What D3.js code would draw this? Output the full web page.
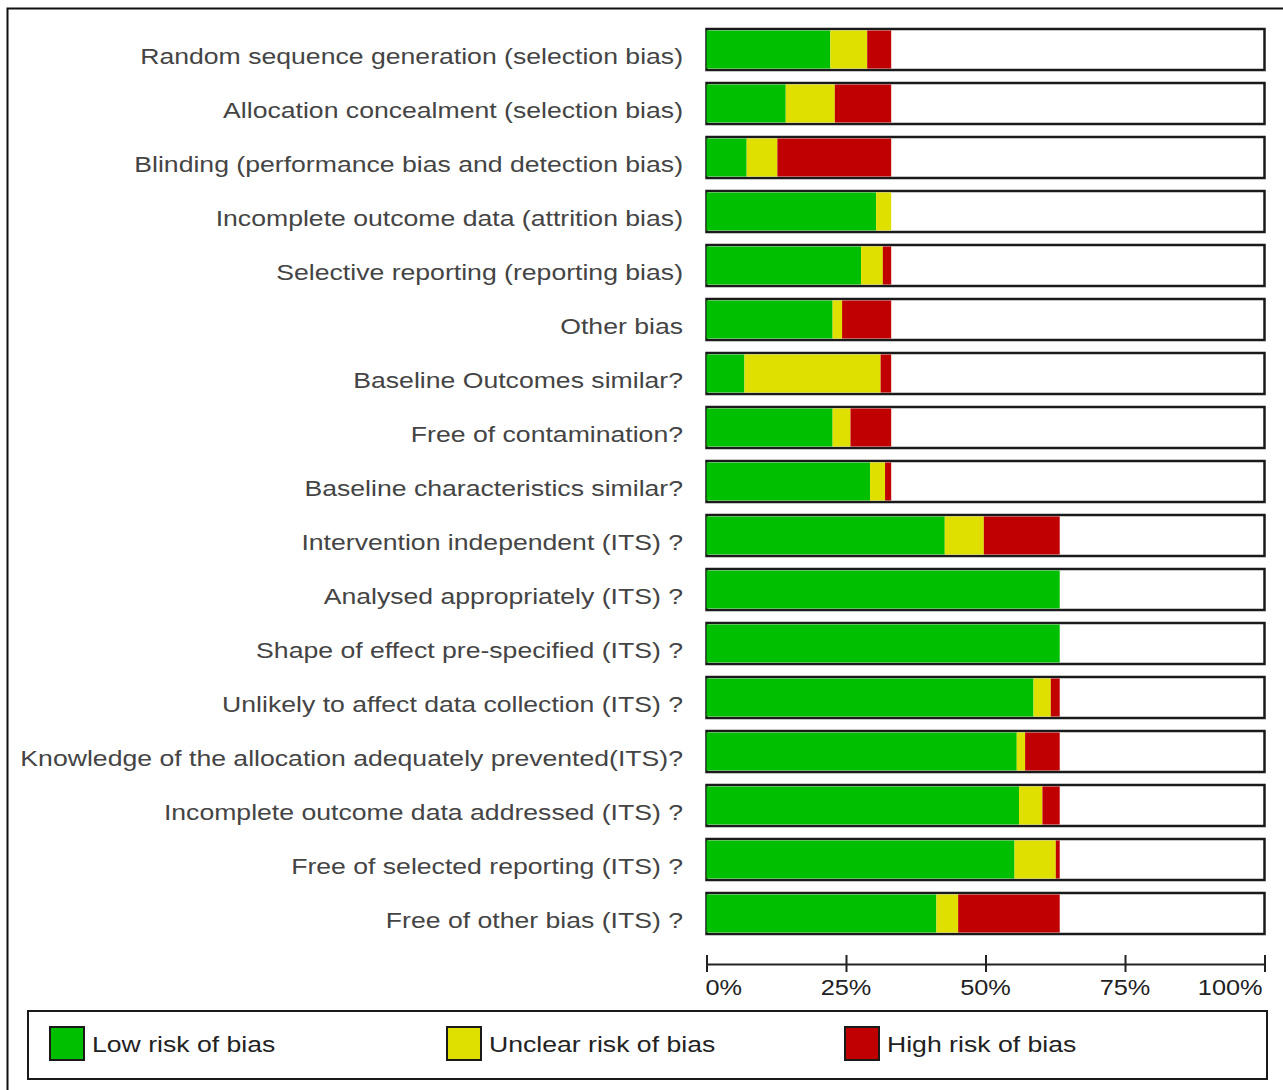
<!DOCTYPE html>
<html><head><meta charset="utf-8">
<script src="https://cdn.jsdelivr.net/npm/d3@7"></script>
<style>
html,body{margin:0;padding:0;background:#fff;}
svg{display:block;}
text{font-family:"Liberation Sans",Arial,sans-serif;}
</style></head>
<body>
<svg id="chart" width="1283" height="1090"></svg>
<script>
const categories = [
  "Random sequence generation (selection bias)",
  "Allocation concealment (selection bias)",
  "Blinding (performance bias and detection bias)",
  "Incomplete outcome data (attrition bias)",
  "Selective reporting (reporting bias)",
  "Other bias",
  "Baseline Outcomes similar?",
  "Free of contamination?",
  "Baseline characteristics similar?",
  "Intervention independent (ITS) ?",
  "Analysed appropriately (ITS) ?",
  "Shape of effect pre-specified (ITS) ?",
  "Unlikely to affect data collection (ITS) ?",
  "Knowledge of the allocation adequately prevented(ITS)?",
  "Incomplete outcome data addressed (ITS) ?",
  "Free of selected reporting (ITS) ?",
  "Free of other bias (ITS) ?"
];
const lowRisk     = [22.2, 14.2, 7.2, 30.4, 27.7, 22.6, 6.8, 22.6, 29.3, 42.7, 63.3, 63.3, 58.6, 55.6, 56.0, 55.2, 41.2];
const unclearRisk = [6.6, 8.8, 5.5, 2.7, 3.9, 1.7, 24.4, 3.2, 2.7, 7.0, 0, 0, 3.1, 1.5, 4.2, 7.4, 3.9];
const highRisk    = [4.3, 10.1, 20.4, 0, 1.5, 8.8, 1.9, 7.3, 1.1, 13.6, 0, 0, 1.6, 6.2, 3.1, 0.7, 18.2];
const seriesNames = ["Low risk of bias", "Unclear risk of bias", "High risk of bias"];
const seriesColors = ["#00bf00", "#e0e000", "#c00000"];
const tickValues = [0, 25, 50, 75, 100];
const tickLabels = ["0%", "25%", "50%", "75%", "100%"];

const svg = d3.select("#chart");

// outer frame
svg.append("rect").attr("x", 7.5).attr("y", 8.5).attr("width", 1290).attr("height", 1100)
  .attr("fill", "none").attr("stroke", "#111").attr("stroke-width", 2);

const x = d3.scaleLinear().domain([0, 100]).range([706.5, 1264.5]);
const y = d3.scaleBand().domain(categories).range([22.5, 940.5])
  .paddingInner(13 / 54).paddingOuter(6.5 / 54);

const rows = categories.map((c, i) => {
  const vals = [lowRisk[i], unclearRisk[i], highRisk[i]];
  let acc = 0;
  return { cat: c, segs: vals.map((v, k) => { const s = { x0: acc, x1: acc + v, k }; acc += v; return s; }) };
});

const g = svg.append("g");
const row = g.selectAll("g.row").data(rows).join("g").attr("class", "row");

row.append("rect")
  .attr("x", x(0)).attr("y", d => y(d.cat))
  .attr("width", x(100) - x(0)).attr("height", y.bandwidth())
  .attr("fill", "#fff").attr("stroke", "#1a1a1a").attr("stroke-width", 2.5);

row.selectAll("rect.seg").data(d => d.segs.filter(s => s.x1 > s.x0).map(s => ({ ...s, cat: d.cat })))
  .join("rect").attr("class", "seg")
  .attr("x", s => x(s.x0)).attr("width", s => x(s.x1) - x(s.x0))
  .attr("y", s => y(s.cat) + 1.5).attr("height", y.bandwidth() - 3)
  .attr("fill", s => seriesColors[s.k]);

// labels (horizontally stretched like the original raster font)
g.selectAll("text.lab").data(categories).join("text").attr("class", "lab")
  .attr("transform", d => `translate(683,${y(d) + y.bandwidth() / 2 + 14}) scale(1.21,1)`)
  .attr("text-anchor", "end").attr("font-size", 22).attr("fill", "#444")
  .text(d => d);

// axis
const axisG = svg.append("g").attr("transform", "translate(0,964)");
axisG.call(d3.axisBottom(x).tickValues(tickValues).tickSize(0).tickFormat(""));
axisG.select(".domain").attr("stroke", "#222").attr("stroke-width", 2);
axisG.selectAll(".tick line").attr("y1", -9).attr("y2", 8).attr("stroke", "#222").attr("stroke-width", 2);
axisG.selectAll(".tick text").remove();
axisG.selectAll("text.tl").data(tickValues).join("text").attr("class", "tl")
  .attr("transform", (d, i) => `translate(${i === 0 ? x(d) - 1 : (i === tickValues.length - 1 ? x(d) - 2 : x(d))},31) scale(1.15,1)`)
  .attr("text-anchor", (d, i) => i === 0 ? "start" : (i === tickValues.length - 1 ? "end" : "middle"))
  .attr("font-size", 22).attr("fill", "#222")
  .text((d, i) => tickLabels[i]);

// legend
const lg = svg.append("g");
lg.append("rect").attr("x", 28).attr("y", 1011).attr("width", 1239).attr("height", 68)
  .attr("fill", "#fff").attr("stroke", "#1a1a1a").attr("stroke-width", 2);
const legendX = [50, 447, 845];
const li = lg.selectAll("g.li").data(seriesNames).join("g").attr("class", "li")
  .attr("transform", (d, i) => `translate(${legendX[i]},1027)`);
li.append("rect").attr("width", 34).attr("height", 33)
  .attr("fill", (d, i) => seriesColors[i]).attr("stroke", "#1a1a1a").attr("stroke-width", 2);
li.append("text").attr("transform", "translate(42,25) scale(1.21,1)").attr("font-size", 22).attr("fill", "#222")
  .text(d => d);
</script>
</body></html>
